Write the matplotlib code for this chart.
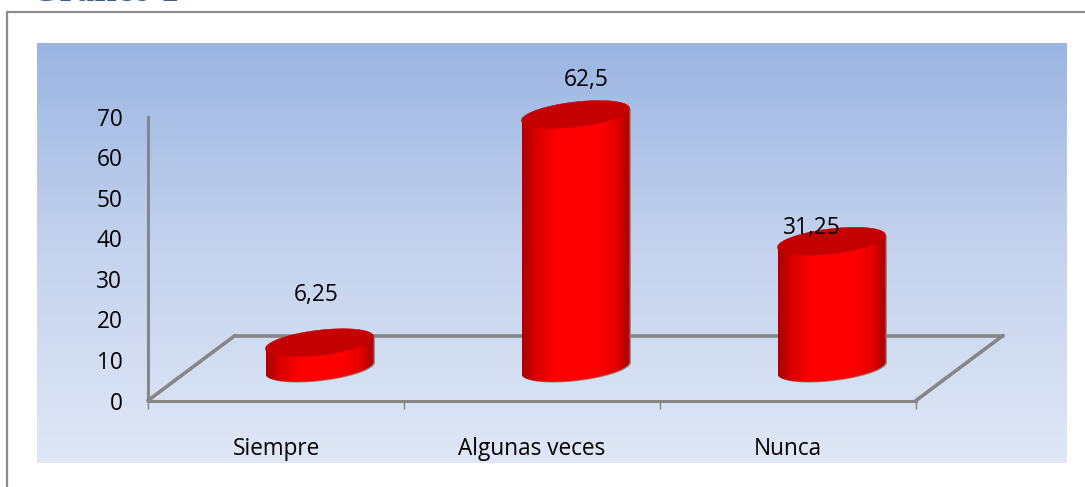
import numpy as np
import matplotlib
matplotlib.use("Agg")
import matplotlib.pyplot as plt
from matplotlib.colors import LinearSegmentedColormap
from matplotlib.patches import Polygon
from matplotlib.transforms import Affine2D, IdentityTransform

categories = ["Siempre", "Algunas veces", "Nunca"]
values = [6.25, 62.5, 31.25]
value_labels = ["6,25", "62,5", "31,25"]
y_ticks = [0, 10, 20, 30, 40, 50, 60, 70]
title = "Gráfico 1"

W, H = 1085, 487
FS = 16.3
plt.rcParams["font.family"] = ["Open Sans", "DejaVu Sans"]
fig = plt.figure(figsize=(W / 100, H / 100), dpi=100, facecolor="white")

# ---- background layer, in pixel coordinates
bg = fig.add_axes([0, 0, 1, 1], zorder=0)
bg.set_xlim(0, W)
bg.set_ylim(H, 0)
bg.axis("off")
cm_bg = LinearSegmentedColormap.from_list("bg", ["#9BB5E3", "#C5D3EE", "#E0E7F6"])
bg.imshow(np.linspace(0, 1, 512)[:, None], extent=[37, 1067, 463, 43], cmap=cm_bg,
          aspect="auto", zorder=1, interpolation="bilinear")
bg.set_xlim(0, W)
bg.set_ylim(H, 0)
bg.plot([7, 7, W], [H, 12, 12], color="#8C8C8C", lw=1.6, zorder=2, solid_joinstyle="miter")
bg.text(31, 1.0, title, family=["Liberation Serif"], fontweight="bold", fontsize=26.5,
        color="#366092", ha="left", va="baseline", zorder=3)

# ---- chart layer
left, right, base, top = 148, 916, 400.5, 116.5
ax = fig.add_axes([left / W, 1 - base / H, (right - left) / W, (base - top) / H], zorder=1)
ax.patch.set_alpha(0)
ax.set_xlim(-0.5, 2.5)
ax.set_ylim(0, 70)

GREY = "#868686"
for s in ("top", "right"):
    ax.spines[s].set_visible(False)
for s in ("left", "bottom"):
    ax.spines[s].set_color(GREY)
    ax.spines[s].set_linewidth(2.2)
    ax.spines[s].set_zorder(2)

ax.set_yticks(y_ticks)
ax.tick_params(axis="y", length=0, pad=18.5, labelsize=FS, labelcolor="black")
for lab in ax.get_yticklabels():
    lab.set_transform(lab.get_transform() + Affine2D().translate(0, 0))

ax.set_xticks([-0.5, 0.5, 1.5, 2.5])
ax.set_xticklabels([])
ax.tick_params(axis="x", which="major", length=6, width=1, color=GREY)
ax.set_xticks(range(len(categories)), minor=True)
ax.set_xticklabels(categories, minor=True)
ax.tick_params(axis="x", which="minor", length=0, pad=26, labelsize=FS, labelcolor="black")

# floor depth, expressed in axis units
depth_x = 87 / 256
depth_y = 65 / ((base - top) / 70)
line = dict(color=GREY, lw=2.6, clip_on=False, zorder=2, solid_capstyle="round")
ax.plot([-0.5, -0.5 + depth_x], [0, depth_y], **line)
ax.plot([-0.5 + depth_x, 2.5 + depth_x], [depth_y, depth_y], **line)
ax.plot([2.5, 2.5 + depth_x], [0, depth_y], **line)

# ---- cylinders
half_w = 54.0
shear = 0.112
minor = 12.5
cm_bar = LinearSegmentedColormap.from_list(
    "bar", [(0, "#A80000"), (0.14, "#DC0000"), (0.32, "#FF0000"),
            (0.72, "#FF0000"), (0.9, "#DC0000"), (1, "#A00000")])
ident = IdentityTransform()
fig.canvas.draw()
t = np.linspace(0, 2 * np.pi, 181)
ex = half_w * np.cos(t)
ey = minor * np.sin(t) + shear * ex
t_low = np.linspace(np.pi, 2 * np.pi, 91)
lx = half_w * np.cos(t_low)
ly = minor * np.sin(t_low) + shear * lx

label_offsets = [(-3, 48), (11, 34), (-20, 13)]
for i, (v, txt, off) in enumerate(zip(values, value_labels, label_offsets)):
    x = i + depth_x / 2
    bx, by = ax.transData.transform((x, depth_y / 2))
    tx, ty = ax.transData.transform((x, v + depth_y / 2))
    body = np.vstack([np.column_stack([bx + lx, by + ly]),
                      [[bx + half_w, ty + shear * half_w]],
                      [[bx - half_w, ty - shear * half_w]]])
    ax.add_patch(Polygon(body + [1.5, -0.6], closed=True, transform=ident, clip_on=False,
                         facecolor="#8E8E8E", edgecolor="none", zorder=3))
    clip = Polygon(body, closed=True, transform=ident, facecolor="none", edgecolor="none")
    ax.add_patch(clip)
    im = ax.imshow(np.linspace(0, 1, 256)[None, :], cmap=cm_bar, aspect="auto",
                   extent=[bx - half_w, bx + half_w, by - 20, ty + 20],
                   transform=ident, zorder=4, interpolation="bilinear")
    im.set_clip_box(fig.bbox)
    im.set_clip_path(clip)
    ax.add_patch(Polygon(np.column_stack([tx + ex, ty + ey]), closed=True, transform=ident,
                         clip_on=False, facecolor="#C40000", edgecolor="#C40000", lw=0.4,
                         zorder=5))
    ax.annotate(txt, (x, v + depth_y / 2), xytext=off, textcoords="offset pixels",
                ha="center", va="center", fontsize=FS, color="black", zorder=6,
                annotation_clip=False)
ax.set_xlim(-0.5, 2.5)
ax.set_ylim(0, 70)

fig.savefig("out.png", dpi=100, facecolor="white")
